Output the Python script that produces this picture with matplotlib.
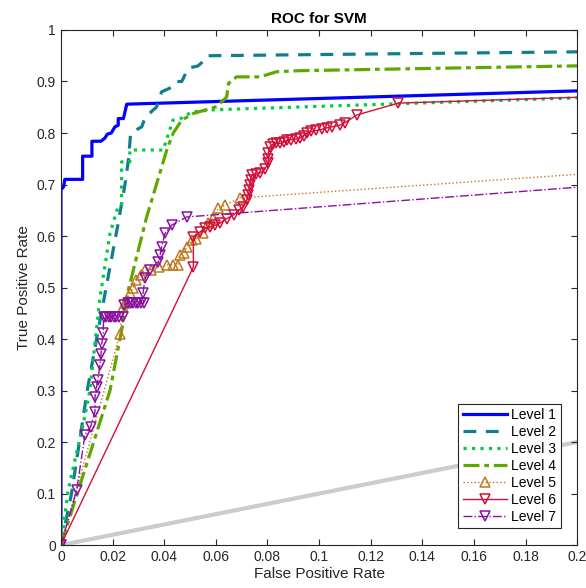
import matplotlib
matplotlib.use("Agg")
import matplotlib.pyplot as plt

plt.rcParams['font.family'] = ['Liberation Sans', 'DejaVu Sans']

# ROC points (curves run on to (1,1), axis cut at 0.2)
fpr1 = [0, 0, 0.001, 0.0015, 0.0084, 0.0084, 0.012, 0.012, 0.0155, 0.017, 0.018, 0.0195,
        0.0209, 0.0222, 0.0222, 0.0242, 0.0255, 1]
tpr1 = [0, 0.69, 0.695, 0.71, 0.71, 0.755, 0.755, 0.784, 0.784, 0.79, 0.798, 0.80,
        0.812, 0.815, 0.828, 0.828, 0.856, 1]

fpr2 = [0, 0.0041, 0.0102, 0.0138, 0.0175, 0.022, 0.0248, 0.0262, 0.027, 0.0313, 0.0326,
        0.0358, 0.037, 0.039, 0.0435, 0.0448, 0.0468, 0.0493, 0.053, 0.0558, 0.0566, 1]
tpr2 = [0, 0.1, 0.3, 0.4, 0.5, 0.62, 0.7, 0.75, 0.8, 0.812, 0.83,
        0.845, 0.85, 0.88, 0.89, 0.90, 0.90, 0.926, 0.93, 0.942, 0.95, 1]

fpr3 = [0, 0.0028, 0.0087, 0.0112, 0.0151, 0.019, 0.0209, 0.0216, 0.0235, 0.0235, 0.0267,
        0.0267, 0.0396, 0.0434, 0.0468, 0.0507, 0.059, 1]
tpr3 = [0, 0.107, 0.237, 0.30, 0.48, 0.605, 0.637, 0.65, 0.657, 0.744, 0.744,
        0.767, 0.767, 0.825, 0.829, 0.841, 0.845, 1]

fpr4 = [0, 0.019, 0.0235, 0.0261, 0.0332, 0.041, 0.0435, 0.0468, 0.0513, 0.0603, 0.0642,
        0.0649, 0.068, 0.0771, 0.0836, 0.0926, 1]
tpr4 = [0, 0.30, 0.417, 0.495, 0.637, 0.767, 0.80, 0.825, 0.838, 0.851, 0.87,
        0.896, 0.909, 0.909, 0.919, 0.921, 1]

fpr5 = [0, 0.0229, 0.024, 0.025, 0.0267, 0.028, 0.029, 0.031, 0.0326, 0.035, 0.038, 0.041,
        0.0435, 0.0453, 0.046, 0.0475, 0.0488, 0.0507, 0.0525, 0.055, 0.057, 0.059, 0.061,
        0.0636, 0.0694, 1]
tpr5 = [0, 0.41, 0.463, 0.47, 0.489, 0.50, 0.515, 0.525, 0.534, 0.535, 0.54, 0.544,
        0.544, 0.544, 0.563, 0.567, 0.579, 0.592, 0.595, 0.606, 0.625, 0.635, 0.654,
        0.66, 0.674, 1]

fpr6 = [0, 0.0513, 0.0513, 0.0539, 0.0558, 0.0578, 0.0597, 0.0616, 0.0643, 0.0669, 0.0688,
        0.0707, 0.072, 0.0726, 0.073, 0.0733, 0.0736, 0.0739, 0.0755, 0.0771, 0.079, 0.0803,
        0.0803, 0.0803, 0.081, 0.082, 0.0835, 0.0849, 0.0865, 0.0875, 0.089, 0.091, 0.0926,
        0.094, 0.0952, 0.097, 0.099, 0.101, 0.103, 0.105, 0.108, 0.110, 0.1146, 0.1307, 1]
tpr6 = [0, 0.54, 0.599, 0.608, 0.615, 0.618, 0.621, 0.625, 0.634, 0.641, 0.65,
        0.657, 0.67, 0.68, 0.69, 0.70, 0.709, 0.718, 0.72, 0.722, 0.73, 0.741,
        0.75, 0.761, 0.773, 0.778, 0.78, 0.78, 0.782, 0.786, 0.787, 0.788, 0.79,
        0.795, 0.80, 0.803, 0.805, 0.807, 0.81, 0.812, 0.815, 0.82, 0.835, 0.858, 1]

fpr7 = [0, 0.0061, 0.0093, 0.0115, 0.0132, 0.0132, 0.0138, 0.0143, 0.0151, 0.0155, 0.0158,
        0.0164, 0.0165, 0.0175, 0.0185, 0.0195, 0.0205, 0.0215, 0.0225, 0.024, 0.0245, 0.026,
        0.027, 0.028, 0.029, 0.030, 0.031, 0.032, 0.0318, 0.0326, 0.0345, 0.0377, 0.0384,
        0.039, 0.0403, 0.0429, 0.0487, 1]
tpr7 = [0, 0.107, 0.214, 0.23, 0.259, 0.288, 0.307, 0.32, 0.35, 0.37, 0.39,
        0.411, 0.443, 0.443, 0.443, 0.443, 0.443, 0.443, 0.443, 0.443, 0.467, 0.47,
        0.47, 0.47, 0.47, 0.47, 0.47, 0.47, 0.489, 0.518, 0.534, 0.55, 0.563,
        0.579, 0.605, 0.621, 0.637, 1]

labels = ['Level 1', 'Level 2', 'Level 3', 'Level 4', 'Level 5', 'Level 6', 'Level 7']

fig = plt.figure(figsize=(5.86, 5.88), dpi=100)
ax = fig.add_axes([0.104, 0.073, 0.881, 0.876])

ax.plot([0, 1], [0, 1], color='#cccccc', lw=3, zorder=1)

ax.plot(fpr1, tpr1, '-', color='#0000ff', lw=2.3, label=labels[0])
ax.plot(fpr2, tpr2, '--', color='#0f7f8f', lw=2.3, dashes=(4, 3), label=labels[1])
ax.plot(fpr3, tpr3, ':', color='#00cc44', lw=2.3, label=labels[2])
ax.plot(fpr4, tpr4, '-.', color='#5fa800', lw=2.3, dashes=(5, 1.5, 1.5, 1.5), label=labels[3])
ax.plot(fpr5, tpr5, ':', color='#c07820', lw=1, marker='^', ms=7, mfc='none', mew=1.1, label=labels[4])
ax.plot(fpr6, tpr6, '-', color='#d0103a', lw=1, marker='v', ms=7, mfc='none', mew=1.1, label=labels[5])
ax.plot(fpr7, tpr7, '-.', color='#8a10a0', lw=1, marker='v', ms=7, mfc='none', mew=1.1, label=labels[6])

ax.set_xlim(0, 0.2)
ax.set_ylim(0, 1)
ax.set_xticks([i * 0.02 for i in range(11)])
ax.set_xticklabels(['0', '0.02', '0.04', '0.06', '0.08', '0.1', '0.12', '0.14', '0.16', '0.18', '0.2'])
ax.set_yticks([i * 0.1 for i in range(11)])
ax.set_yticklabels(['0', '0.1', '0.2', '0.3', '0.4', '0.5', '0.6', '0.7', '0.8', '0.9', '1'])
ax.tick_params(direction='in', top=True, right=True, labelsize=10, colors='#262626', length=4)
for s in ax.spines.values():
    s.set_color('#262626')
    s.set_linewidth(0.8)

ax.set_xlabel('False Positive Rate', fontsize=11, color='#262626', labelpad=2)
ax.set_ylabel('True Positive Rate', fontsize=11, color='#262626', labelpad=4)
ax.set_title('ROC for SVM', fontsize=11, fontweight='bold', pad=5)

leg = ax.legend(loc='lower right', fontsize=10, fancybox=False, framealpha=1,
                edgecolor='#262626', handlelength=3.2, handletextpad=0.3,
                labelspacing=0.22, borderpad=0.3, borderaxespad=1.2)
leg.get_frame().set_linewidth(0.8)

fig.savefig('out.png', dpi=100)
